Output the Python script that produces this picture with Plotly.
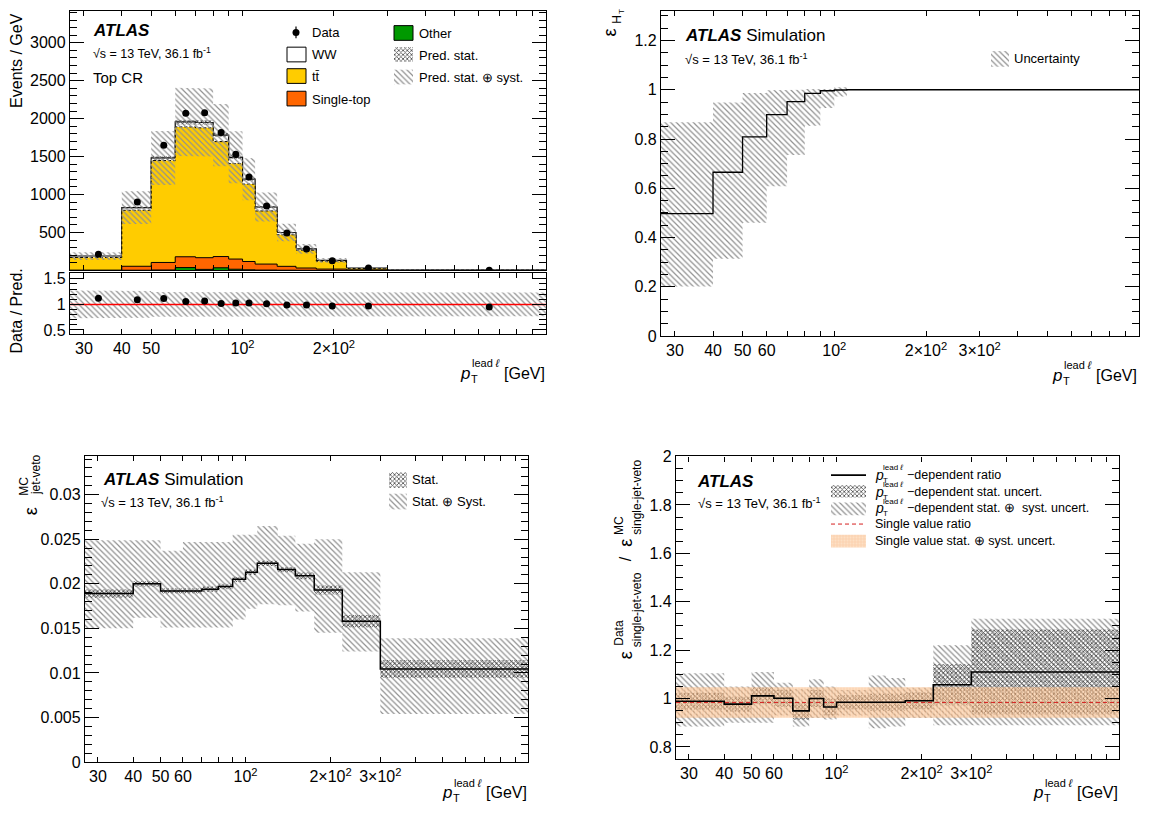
import numpy as np
import plotly.graph_objects as go

W, H = 1151, 819
FONT = "Liberation Sans, Arial, Helvetica, sans-serif"

# ---------------- data ----------------
edges = [27, 40, 50, 60, 70, 80, 90, 100, 110, 130, 150, 175, 220, 300, 1000]

# Top CR (Events / GeV)
other = [1, 3, 6, 38, 14, 35, 16, 8, 5, 3, 2, 1, 0.5, 0.1]
single_top = [2, 52, 99, 142, 154, 148, 134, 110, 79, 51, 30, 17, 7.5, 0.9]
ttbar = [167, 738, 1343, 1712, 1711, 1515, 1259, 1020, 700, 416, 235, 104, 18, 2]
ww = [20, 35, 35, 65, 71, 86, 82, 65, 52, 30, 17, 10, 6, 1]
data = [213, 903, 1650, 2072, 2077, 1818, 1532, 1233, 848, 495, 281, 128, 31, 3.8]
pred_rel_syst = [0.27, 0.26, 0.24, 0.23, 0.23, 0.23, 0.23, 0.23, 0.23, 0.23, 0.23, 0.23, 0.23, 0.23]
pred_rel_stat = [0.015] * 14

# H_T efficiency
eff_ht = [0.497, 0.665, 0.809, 0.899, 0.952, 0.985, 0.996, 0.999, 1, 1, 1, 1, 1, 1]
eff_ht_lo = [0.201, 0.314, 0.46, 0.608, 0.735, 0.854, 0.926, 0.973, 1, 1, 1, 1, 1, 1]
eff_ht_hi = [0.868, 0.948, 0.987, 0.998, 1.0, 1.003, 1.003, 1.01, 1, 1, 1, 1, 1, 1]

# MC jet-veto efficiency
eff_jv = [0.0189, 0.0200, 0.0192, 0.0192, 0.0194, 0.0197, 0.0205, 0.0213, 0.0223, 0.0216, 0.0209, 0.0193, 0.0158, 0.01045]
eff_jv_stat = [0.0005, 0.0003, 0.0003, 0.0003, 0.0003, 0.0003, 0.0003, 0.0003, 0.0003, 0.0003, 0.0004, 0.0005, 0.0007, 0.001]
eff_jv_hi = [0.0249, 0.0249, 0.0237, 0.0247, 0.0247, 0.0247, 0.0255, 0.0255, 0.0265, 0.0254, 0.0245, 0.0250, 0.0213, 0.0139]
eff_jv_lo = [0.0150, 0.0162, 0.0151, 0.0151, 0.0151, 0.0151, 0.0160, 0.0172, 0.0177, 0.0176, 0.0169, 0.0145, 0.0124, 0.0054]

# Data / MC ratio of single-jet-veto efficiency
sf = [0.989, 0.977, 1.011, 1.001, 0.949, 1.000, 0.965, 0.985, 0.985, 0.985, 0.985, 0.991, 1.057, 1.110]
sf_stat = [0.035, 0.03, 0.035, 0.035, 0.035, 0.035, 0.035, 0.03, 0.03, 0.035, 0.035, 0.035, 0.085, 0.175]
sf_hi = [1.105, 1.05, 1.11, 1.065, 1.04, 1.08, 1.05, 1.035, 1.035, 1.095, 1.085, 1.045, 1.22, 1.33]
sf_lo = [0.885, 0.9, 0.9, 0.93, 0.885, 0.92, 0.914, 0.93, 0.93, 0.877, 0.885, 0.92, 0.89, 0.89]
sf_single = 0.984
sf_single_unc = 0.063

# tick labels
tl_vals_a = [30, 40, 50, 100, 200]
tl_text_a = ["30", "40", "50", "10<sup>2</sup>", "2×10<sup>2</sup>"]
tl_vals_b = [30, 40, 50, 60, 100, 200, 300]
tl_text_b = ["30", "40", "50", "60", "10<sup>2</sup>", "2×10<sup>2</sup>", "3×10<sup>2</sup>"]
all_ticks = [30, 40, 50, 60, 70, 80, 90, 100, 200, 300, 400, 500, 600, 700, 800, 900]
y_main_ticks = [500, 1000, 1500, 2000, 2500, 3000]
y_ratio_ticks = [0.5, 1, 1.5]
y_ratio_text = ["0.5", "1", "1.5"]
y_ht_ticks = [0, 0.2, 0.4, 0.6, 0.8, 1, 1.2]
y_ht_text = ["0", "0.2", "0.4", "0.6", "0.8", "1", "1.2"]
y_jv_ticks = [0, 0.005, 0.01, 0.015, 0.02, 0.025, 0.03]
y_jv_text = ["0", "0.005", "0.01", "0.015", "0.02", "0.025", "0.03"]
y_sf_ticks = [0.8, 1, 1.2, 1.4, 1.6, 1.8, 2]
y_sf_text = ["0.8", "1", "1.2", "1.4", "1.6", "1.8", "2"]

# ---------------- helpers ----------------
E = np.array(edges, dtype=float)
n = len(E) - 1
centers = 0.5 * (E[:-1] + E[1:])


def step_y(vals):
    v = list(vals)
    return v + [v[-1]]


def band_poly(lo, hi):
    xs, ys = [], []
    for i in range(n):
        xs += [E[i], E[i + 1]]
        ys += [hi[i], hi[i]]
    for i in reversed(range(n)):
        xs += [E[i + 1], E[i]]
        ys += [lo[i], lo[i]]
    xs.append(xs[0]); ys.append(ys[0])
    return xs, ys


HATCH = dict(shape="\\", fgcolor="#909090", bgcolor="rgba(0,0,0,0)", size=4, solidity=0.3, fillmode="replace")
CROSS = dict(shape="x", fgcolor="#4a4a4a", bgcolor="rgba(0,0,0,0)", size=3, solidity=0.45, fillmode="replace")
ORANGE_FILL = "rgba(247,170,105,0.5)"
ORANGE_PAT = dict(shape=".", fgcolor="rgba(255,235,210,0.55)", bgcolor=ORANGE_FILL, size=3, solidity=0.3, fillmode="replace")

fig = go.Figure()


def add_band(lo, hi, pat, xa, ya, fillcolor="rgba(0,0,0,0)"):
    xs, ys = band_poly(lo, hi)
    fig.add_trace(go.Scatter(x=xs, y=ys, mode="lines", fill="toself", fillcolor=fillcolor,
                             fillpattern=pat, line=dict(width=0), xaxis=xa, yaxis=ya,
                             hoverinfo="skip", showlegend=False))


def add_step(vals, xa, ya, color="black", width=1.5, dash="solid", fill=None, fillcolor=None):
    fig.add_trace(go.Scatter(x=list(E), y=step_y(vals), mode="lines", line_shape="hv",
                             line=dict(color=color, width=width, dash=dash),
                             fill=fill, fillcolor=fillcolor, xaxis=xa, yaxis=ya,
                             hoverinfo="skip", showlegend=False))


# ---------------- panel A: Top CR ----------------
oth = np.array(other, float)
cum_st = oth + np.array(single_top, float)
cum_tt = cum_st + np.array(ttbar, float)
total = cum_tt + np.array(ww, float)

add_step(total, "x", "y", width=1.2, fill="tozeroy", fillcolor="white")
add_step(cum_tt, "x", "y", width=1, dash="3px,2px", fill="tozeroy", fillcolor="#FFCC00")
add_step(cum_st, "x", "y", width=1, fill="tozeroy", fillcolor="#FF6600")
add_step(oth, "x", "y", width=1, fill="tozeroy", fillcolor="#009900")
rs = np.array(pred_rel_syst)
rst = np.array(pred_rel_stat)
add_band(total * (1 - rs), total * (1 + rs), HATCH, "x", "y")
add_band(total * (1 - rst), total * (1 + rst), CROSS, "x", "y")
fig.add_trace(go.Scatter(x=centers, y=data, mode="markers", marker=dict(color="black", size=7),
                         xaxis="x", yaxis="y", showlegend=False))

# ratio
add_band(1 - rs, 1 + rs, HATCH, "x2", "y2")
fig.add_trace(go.Scatter(x=[E[0], E[-1]], y=[1, 1], mode="lines", line=dict(color="#ff0000", width=1.5),
                         xaxis="x2", yaxis="y2", showlegend=False))
fig.add_trace(go.Scatter(x=centers, y=np.array(data) / total, mode="markers",
                         marker=dict(color="black", size=7), xaxis="x2", yaxis="y2", showlegend=False))

# ---------------- panel B: eps_HT ----------------
add_band(eff_ht_lo, eff_ht_hi, HATCH, "x3", "y3")
add_step(eff_ht, "x3", "y3", width=1.3)

# ---------------- panel C: eps jet-veto MC ----------------
ej = np.array(eff_jv); ejs = np.array(eff_jv_stat)
add_band(eff_jv_lo, eff_jv_hi, HATCH, "x4", "y4")
add_band(ej - ejs, ej + ejs, CROSS, "x4", "y4")
add_step(eff_jv, "x4", "y4", width=1.5)

# ---------------- panel D: ratio ----------------
s = np.array(sf); ss = np.array(sf_stat)
add_band(sf_lo, sf_hi, HATCH, "x5", "y5")
add_band(s - ss, s + ss, CROSS, "x5", "y5")
add_band([sf_single - sf_single_unc] * n, [sf_single + sf_single_unc] * n, ORANGE_PAT, "x5", "y5",
         fillcolor=ORANGE_FILL)
fig.add_trace(go.Scatter(x=[E[0], E[-1]], y=[sf_single, sf_single], mode="lines",
                         line=dict(color="#d62020", width=1, dash="4px,3px"),
                         xaxis="x5", yaxis="y5", showlegend=False))
add_step(sf, "x5", "y5", width=1.6)

# ---------------- legend swatches (pixel overlay axis) ----------------
def box(x0, y0, x1, y1, fillcolor="rgba(0,0,0,0)", pat=None, line=None):
    fig.add_trace(go.Scatter(x=[x0, x1, x1, x0, x0], y=[y0, y0, y1, y1, y0], mode="lines",
                             fill="toself", fillcolor=fillcolor, fillpattern=pat,
                             line=line if line else dict(width=0),
                             xaxis="x6", yaxis="y6", hoverinfo="skip", showlegend=False))


def seg(x0, y0, x1, y1, color="black", width=1.5, dash="solid"):
    fig.add_trace(go.Scatter(x=[x0, x1], y=[y0, y1], mode="lines",
                             line=dict(color=color, width=width, dash=dash),
                             xaxis="x6", yaxis="y6", hoverinfo="skip", showlegend=False))


# panel A legend
seg(296, 19, 296, 31, width=1.2)
fig.add_trace(go.Scatter(x=[296], y=[25], mode="markers", marker=dict(color="black", size=7),
                         xaxis="x6", yaxis="y6", showlegend=False))
box(287, 40, 306, 55, "white", line=dict(color="black", width=1))
box(287, 62, 306, 77, "#FFCC00", line=dict(color="black", width=1))
box(287, 85, 306, 100, "#FF6600", line=dict(color="black", width=1))
box(394, 18, 413, 33, "#009900", line=dict(color="black", width=1))
box(394, 40, 413, 55, pat=CROSS)
box(394, 63, 413, 78, pat=HATCH)
# panel B legend
box(991, 44, 1009, 60, pat=HATCH)
# panel C legend
box(389, 474, 407, 490, pat=CROSS)
box(389, 496, 407, 512, pat=HATCH)
# panel D legend
seg(831, 477, 866, 477, width=1.6)
box(831, 487, 866, 500, pat=CROSS)
box(831, 505, 866, 518, pat=HATCH)
seg(831, 527, 866, 527, color="#d62020", width=1, dash="4px,3px")
box(831, 538, 866, 551, ORANGE_FILL, pat=ORANGE_PAT)

# ---------------- annotations ----------------
annots = []


def ann(x, y, text, size=13, xanchor="left", yanchor="middle", angle=0):
    annots.append(dict(x=x / W, y=1 - y / H, xref="paper", yref="paper", text=text, showarrow=False,
                       font=dict(family=FONT, size=size, color="black"), xanchor=xanchor,
                       yanchor=yanchor, textangle=angle, borderpad=0))


SQRTS = "√s = 13 TeV, 36.1 fb<sup>-1</sup>"
ATL = "<b><i>ATLAS</i></b>"

ann(92, 23, ATL, 17)
ann(92, 46, SQRTS, 12.5)
ann(92, 71, "Top CR", 15)
ann(311, 25, "Data", 13)
ann(311, 47, "WW", 13)
ann(311, 70, "tt\u0304", 13)
ann(311, 93, "Single-top", 13)
ann(418, 26, "Other", 13)
ann(418, 48, "Pred. stat.", 13)
ann(418, 71, "Pred. stat. ⊕ syst.", 13)

ann(684, 28, ATL + " Simulation", 17)
ann(684, 52, SQRTS, 13)
ann(1013, 52, "Uncertainty", 13)

ann(102, 482, ATL + " Simulation", 17)
ann(100, 504, SQRTS, 13)
ann(411, 482, "Stat.", 13)
ann(411, 504, "Stat. ⊕ Syst.", 13)

ann(696, 484, ATL, 17)
ann(697, 506, SQRTS, 13)
for yy, txt in [(477, "−dependent ratio"), (494, "−dependent stat. uncert."),
                (511, "−dependent stat. ⊕  syst. uncert.")]:
    ann(874, yy, "<i>p</i>", 14)
    ann(882, yy - 7.5, "lead <i>ℓ</i>", 8)
    ann(882, yy + 5.5, "T", 8)
    ann(906, yy, txt, 12.5)
ann(874, 527, "Single value ratio", 12.5)
ann(874, 544, "Single value stat. ⊕ syst. uncert.", 12.5)


def xtitle(R, yc):
    ann(R, yc, "[GeV]", 16, xanchor="right")
    ann(R - 45, yc - 10, "lead <i>ℓ</i>", 11, xanchor="right")
    ann(R - 76, yc + 6, "T", 11, xanchor="left")
    ann(R - 75, yc, "<i>p</i>", 17, xanchor="right")


xtitle(546, 373)
xtitle(1138, 375)
xtitle(528, 801)
xtitle(1119, 801)

# y titles
ann(17, 54, "Events / GeV", 16, "center", "middle", -90)
ann(17, 310, "Data / Pred.", 16, "center", "middle", -90)
ann(610, 25, "ε", 18, "center", "middle", -90)
ann(617, 12, "H", 12, "center", "middle", -90)
ann(622, 4, "T", 8, "center", "middle", -90)
ann(31, 514, "ε", 18, "center", "middle", -90)
ann(24, 489, "MC", 12, "center", "middle", -90)
ann(36, 477, "jet-veto", 12, "center", "middle", -90)
ann(626, 661, "ε", 18, "center", "middle", -90)
ann(619, 638, "Data", 12, "center", "middle", -90)
ann(637, 614, "single-jet-veto", 12, "center", "middle", -90)
ann(625, 563, "/", 16, "center", "middle", -90)
ann(626, 546, "ε", 18, "center", "middle", -90)
ann(619, 528, "MC", 12, "center", "middle", -90)
ann(637, 499, "single-jet-veto", 12, "center", "middle", -90)

# ---------------- axes ----------------
TICKFONT = dict(family=FONT, size=16, color="black")
LOGR = [np.log10(edges[0]), np.log10(edges[-1])]


def dom_x(a, b):
    return [a / W, b / W]


def dom_y(top, bottom):
    return [1 - bottom / H, 1 - top / H]


def xlog(domain, anchor, vals, texts, show=True):
    minor_vals = [v for v in all_ticks if v not in vals]
    return dict(type="log", range=LOGR, domain=domain, anchor=anchor, showgrid=False, zeroline=False,
                showline=True, linecolor="black", linewidth=1.3, mirror="ticks",
                ticks="inside", ticklen=5, tickwidth=1, tickcolor="black",
                tickmode="array", tickvals=vals, ticktext=texts, showticklabels=show,
                tickfont=TICKFONT,
                minor=dict(tickmode="array", tickvals=minor_vals, ticks="inside", ticklen=5,
                           tickcolor="black", tickwidth=1))


def ylin(domain, anchor, rng, vals, texts, minor_dtick):
    return dict(range=rng, domain=domain, anchor=anchor, showgrid=False, zeroline=False,
                showline=True, linecolor="black", linewidth=1.3, mirror="ticks",
                ticks="inside", ticklen=14, tickwidth=1.2, tickcolor="black",
                tickmode="array", tickvals=vals, ticktext=texts, tickfont=TICKFONT,
                minor=dict(dtick=minor_dtick, tick0=0, ticks="inside", ticklen=7,
                           tickcolor="black", tickwidth=1))


# longer tick marks at 10^2 (ROOT style decade ticks)
shapes = []
for xa, ya, hpx in [("x", "y", 265), ("x2", "y2", 62.5), ("x3", "y3", 332), ("x4", "y4", 313), ("x5", "y5", 309)]:
    f = 9.0 / hpx
    for y0, y1 in [(0, f), (1 - f, 1)]:
        shapes.append(dict(type="line", xref=xa, yref=ya + " domain", x0=np.log10(100), x1=np.log10(100),
                           y0=y0, y1=y1, line=dict(color="black", width=1)))

fig.update_layout(
    width=W, height=H, margin=dict(l=0, r=0, t=0, b=0),
    paper_bgcolor="white", plot_bgcolor="rgba(0,0,0,0)", showlegend=False,
    font=dict(family=FONT, color="black"),
    xaxis=xlog(dom_x(70, 546), "y", tl_vals_a, tl_text_a, show=False),
    yaxis=ylin(dom_y(3, 268), "x", [0, 3420], y_main_ticks, [str(v) for v in y_main_ticks], 100),
    xaxis2=xlog(dom_x(70, 546), "y2", tl_vals_a, tl_text_a),
    yaxis2=ylin(dom_y(270.5, 333), "x2", [0.42, 1.615], y_ratio_ticks, y_ratio_text, 0.1),
    xaxis3=xlog(dom_x(661, 1139), "y3", tl_vals_b, tl_text_b),
    yaxis3=ylin(dom_y(3, 335), "x3", [0, 1.32], y_ht_ticks, y_ht_text, 0.05),
    xaxis4=xlog(dom_x(85, 528), "y4", tl_vals_b, tl_text_b),
    yaxis4=ylin(dom_y(457, 770), "x4", [0, 0.0344], y_jv_ticks, y_jv_text, 0.001),
    xaxis5=xlog(dom_x(676, 1119), "y5", tl_vals_b, tl_text_b),
    yaxis5=ylin(dom_y(458, 767), "x5", [0.75, 2.0], y_sf_ticks, y_sf_text, 0.05),
    xaxis6=dict(domain=[0, 1], range=[0, W], visible=False, fixedrange=True, anchor="y6"),
    yaxis6=dict(domain=[0, 1], range=[H, 0], visible=False, fixedrange=True, anchor="x6"),
    annotations=annots,
    shapes=shapes,
)

fig.write_html("out.html", config={"displayModeBar": False},
               post_script="document.body.style.margin='0px';document.body.style.overflow='hidden';")
